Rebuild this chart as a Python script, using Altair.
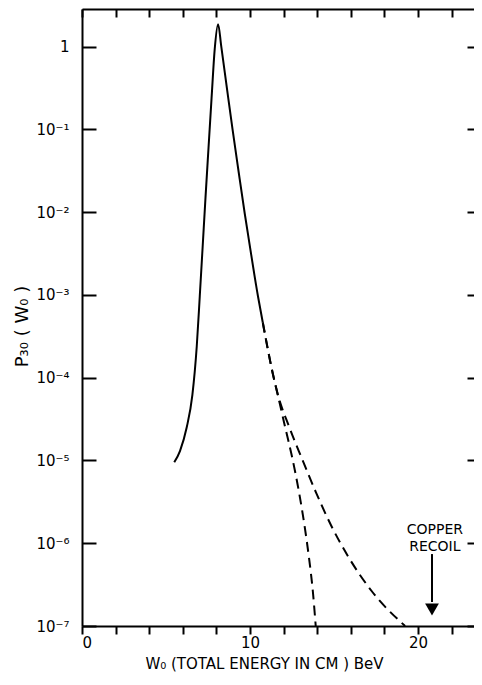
import json
import altair as alt
import pandas as pd

# ---- data ----
solid_x = [5.49, 5.83, 6.23, 6.57, 6.83, 7.01, 7.18, 7.35, 7.53, 7.71, 7.90, 8.10,
           8.29, 8.64, 8.96, 9.30, 9.69, 9.92, 10.47, 10.76]
solid_y = [9.5e-6, 1.3e-5, 2.5e-5, 6.2e-5, 2.4e-4, 9.7e-4, 3.8e-3, 1.5e-2, 6.0e-2, 0.237, 0.94, 1.87,
           1.0, 0.298, 0.10, 3.3e-2, 9.5e-3, 4.8e-3, 9.7e-4, 4.64e-4]

steep_x = [10.76, 11.36, 11.61, 12.08, 12.53, 12.92, 13.24, 13.51, 13.74, 13.91]
steep_y = [4.64e-4, 1.11e-4, 6.76e-5, 2.58e-5, 1.04e-5, 4.09e-6, 1.65e-6, 6.65e-7, 2.61e-7, 1.0e-7]

shallow_x = [10.76, 11.36, 11.61, 12.32, 13.10, 13.93, 14.82, 15.89, 17.26, 19.23]
shallow_y = [4.64e-4, 1.11e-4, 6.76e-5, 2.58e-5, 1.04e-5, 4.09e-6, 1.65e-6, 6.65e-7, 2.61e-7, 1.0e-7]

x_ticks = [0, 2, 4, 6, 8, 10, 12, 14, 16, 18, 20, 22]
y_ticks = [1e-7, 1e-6, 1e-5, 1e-4, 1e-3, 1e-2, 1e-1, 1]
y_tick_labels = ["10⁻⁷", "10⁻⁶", "10⁻⁵", "10⁻⁴", "10⁻³", "10⁻²", "10⁻¹", "1"]

arrow_x = [20.83]
arrow_top = [7.4e-7]
arrow_bottom = [1.95e-7]
arrow_head = [1.58e-7]
note_x = [21.0, 21.0]
note_y = [1.45e-6, 8.9e-7]
note_text = ["COPPER", "RECOIL"]

x_domain = [0, 23.33]
y_domain = [1e-7, 2.85]

# ---- tables ----
solid_df = pd.DataFrame({"x": solid_x, "y": solid_y})
dashed_df = pd.concat([
    pd.DataFrame({"x": steep_x, "y": steep_y, "branch": "steep"}),
    pd.DataFrame({"x": shallow_x, "y": shallow_y, "branch": "shallow"}),
])
arrow_df = pd.DataFrame({"x": arrow_x, "y": arrow_top, "y2": arrow_bottom, "yh": arrow_head})
note_df = pd.DataFrame({"x": note_x, "y": note_y, "t": note_text})

FONT = "DejaVu Sans"
xs = alt.Scale(domain=x_domain, nice=False, zero=False)
ys = alt.Scale(type="log", domain=y_domain, nice=False)
ylabel_expr = f"{json.dumps(y_tick_labels, ensure_ascii=False)}[round(log(datum.value)/LN10) + 7]"

# layer 1: solid curve, main axes
solid = alt.Chart(solid_df).mark_line(color="black", strokeWidth=2, interpolate="monotone").encode(
    x=alt.X("x:Q", scale=xs, axis=alt.Axis(
        orient="bottom", values=x_ticks, tickSize=8, tickWidth=2, domainWidth=2,
        labelExpr="datum.value % 10 == 0 ? datum.label : ''", labelFontSize=15, labelPadding=1,
        labelFont=FONT, labelColor="black", domainColor="black", tickColor="black", grid=False,
        title="W₀  (TOTAL ENERGY IN CM ) BeV", titleFont=FONT, titleFontSize=15, titleFontWeight="normal",
        titleX=182, titleY=37, titleAnchor="middle", titleBaseline="middle", titleColor="black")),
    y=alt.Y("y:Q", scale=ys, axis=alt.Axis(
        orient="left", values=y_ticks, ticks=False, domainWidth=2, domainColor="black",
        labelExpr=ylabel_expr, labelFontSize=15, labelPadding=13, labelFont=FONT, labelColor="black",
        grid=False, title="P₃₀   (  W₀   )", titleFont=FONT, titleFontSize=18, titleFontWeight="normal",
        titleX=-60, titleY=317, titleAngle=270, titleAlign="center", titleBaseline="middle",
        titleColor="black")),
)

# layer 2: dashed curves, top border and inward left ticks
dashed = alt.Chart(dashed_df).mark_line(color="black", strokeWidth=2, strokeDash=[10, 6], interpolate="monotone").encode(
    x=alt.X("x:Q", scale=xs, axis=alt.Axis(
        orient="top", ticks=False, labels=False, domain=True, domainWidth=2, domainColor="black",
        grid=False, title=None)),
    y=alt.Y("y:Q", scale=ys, axis=alt.Axis(
        orient="left", offset=-14, values=y_ticks, tickSize=14, tickWidth=2, tickColor="black",
        labels=False, domain=False, grid=False, title=None)),
    detail="branch:N",
)

# layer 3: arrow shaft, inward top ticks and right ticks
shaft = alt.Chart(arrow_df).mark_rule(color="black", strokeWidth=2).encode(
    x=alt.X("x:Q", scale=xs, axis=alt.Axis(
        orient="top", offset=-8, values=x_ticks, tickSize=8, tickWidth=2, tickColor="black",
        labels=False, domain=False, grid=False, title=None)),
    y=alt.Y("y:Q", scale=ys, axis=alt.Axis(
        orient="right", offset=-7, values=y_ticks, tickSize=7, tickWidth=2, tickColor="black",
        labels=False, domain=False, grid=False, title=None)),
    y2="y2:Q",
)

head = alt.Chart(arrow_df).mark_point(shape="triangle-down", filled=True, color="black", size=190, opacity=1).encode(
    x=alt.X("x:Q", scale=xs, axis=None),
    y=alt.Y("yh:Q", scale=ys, axis=None),
)

notes = alt.Chart(note_df).mark_text(font=FONT, fontSize=14, color="black", align="center", baseline="middle").encode(
    x=alt.X("x:Q", scale=xs, axis=None),
    y=alt.Y("y:Q", scale=ys, axis=None),
    text="t:N",
)

chart = alt.layer(solid, dashed, shaft, head, notes).resolve_axis(
    x="independent", y="independent"
).properties(
    width=392, height=617,
    autosize=alt.AutoSizeParams(type="none"),
    padding={"left": 74, "top": 1, "right": 0, "bottom": 47},
).configure_view(stroke=None).configure(background="white")

chart.save("out.html", embed_options={"renderer": "svg", "actions": False})
